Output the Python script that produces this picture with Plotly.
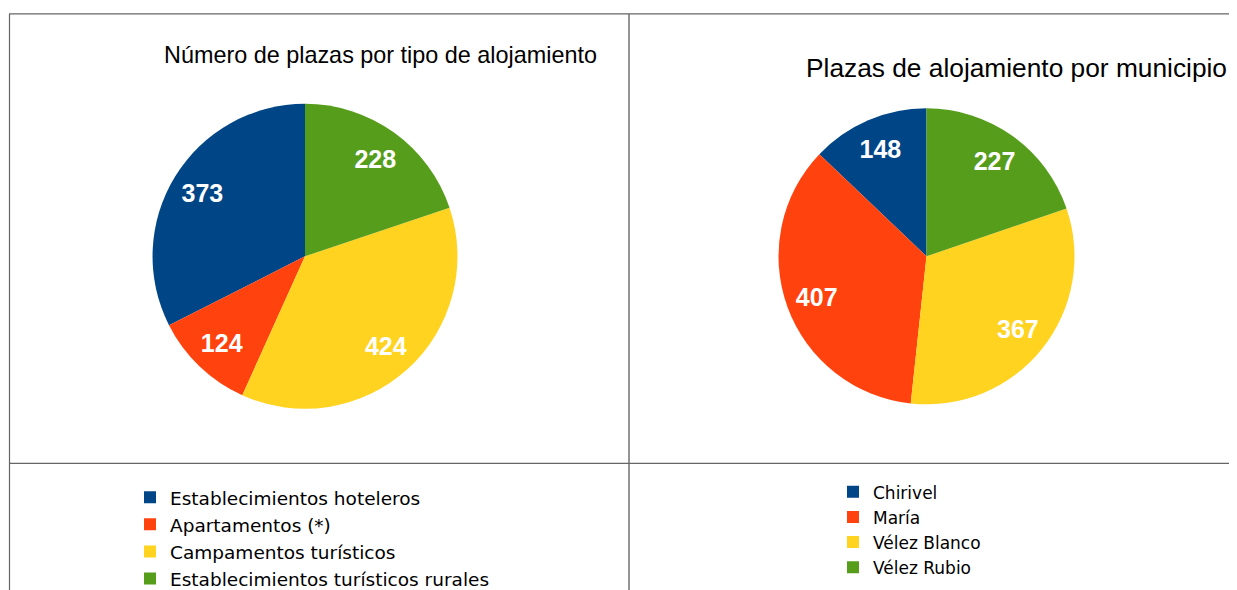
import plotly.graph_objects as go

W, H = 1237, 590
OFF = 8  # page body margin of the html page

# Data
tipo_labels = ["Establecimientos hoteleros", "Apartamentos (*)",
               "Campamentos turísticos", "Establecimientos turísticos rurales"]
tipo_values = [373, 124, 424, 228]

muni_labels = ["Chirivel", "María", "Vélez Blanco", "Vélez Rubio"]
muni_values = [148, 407, 367, 227]

colors = ["#004586", "#ff420e", "#ffd320", "#579d1c"]

title_left = "Número de plazas por tipo de alojamiento"
title_right = "Plazas de alojamiento por municipio"


def px_x(x):
    return (x - OFF) / W


def px_y(y):
    return 1 - (y - OFF) / H


def domain(cx, cy, d):
    return dict(x=[px_x(cx - d / 2), px_x(cx + d / 2)],
                y=[px_y(cy + d / 2), px_y(cy - d / 2)])


def start_rotation(values):
    # first slice starts at 12 o'clock and runs counter-clockwise
    return -360.0 * values[0] / sum(values)


fig = go.Figure()

label_font = dict(family="Liberation Sans", size=25, color="white", weight="bold")
transparent = ["rgba(0,0,0,0)"] * 4

for labels, values, cx, cy, d, leg in [
    (tipo_labels, tipo_values, 305, 258, 307, "legend"),
    (muni_labels, muni_values, 926.5, 258, 298, "legend2"),
]:
    rot = start_rotation(values)
    fig.add_trace(go.Pie(
        labels=labels, values=values, sort=False, direction="counterclockwise",
        rotation=rot, marker=dict(colors=colors, line=dict(width=0)),
        textinfo="none", domain=domain(cx, cy, d), legend=leg,
        hoverinfo="label+value",
    ))
    # value labels placed in the outer ring of the same pie
    fig.add_trace(go.Pie(
        labels=labels, values=values, sort=False, direction="counterclockwise",
        rotation=rot, hole=0.58, marker=dict(colors=transparent, line=dict(width=0)),
        textinfo="value", textposition="inside", insidetextorientation="horizontal",
        textfont=label_font, domain=domain(cx, cy, d), legend=leg,
        showlegend=False, hoverinfo="skip",
    ))

line_col = "#666666"
shapes = [
    dict(type="line", xref="paper", yref="paper", x0=px_x(9), x1=1.0, y0=px_y(14), y1=px_y(14),
         line=dict(color=line_col, width=1.2)),
    dict(type="line", xref="paper", yref="paper", x0=px_x(9), x1=1.0, y0=px_y(466.5), y1=px_y(466.5),
         line=dict(color=line_col, width=1.2)),
    dict(type="line", xref="paper", yref="paper", x0=px_x(9.5), x1=px_x(9.5), y0=0, y1=px_y(14),
         line=dict(color=line_col, width=1.2)),
    dict(type="line", xref="paper", yref="paper", x0=px_x(629), x1=px_x(629), y0=0, y1=px_y(14),
         line=dict(color=line_col, width=1.4)),
]

annotations = [
    dict(text=title_left, x=px_x(380.5), y=px_y(55), xref="paper", yref="paper",
         showarrow=False, xanchor="center", yanchor="middle",
         font=dict(family="Liberation Sans", size=23.4, color="#000000")),
    dict(text=title_right, x=px_x(1016.5), y=px_y(68.5), xref="paper", yref="paper",
         showarrow=False, xanchor="center", yanchor="middle",
         font=dict(family="Liberation Sans", size=26.3, color="#000000")),
]

fig.update_layout(
    width=W, height=H,
    margin=dict(l=0, r=0, t=0, b=0),
    paper_bgcolor="white", plot_bgcolor="white",
    shapes=shapes, annotations=annotations,
    legend=dict(x=px_x(130), y=px_y(482), xanchor="left", yanchor="top",
                bgcolor="rgba(0,0,0,0)", font=dict(family="DejaVu Sans", size=18.5, color="#000000")),
    legend2=dict(x=px_x(833), y=px_y(477.5), xanchor="left", yanchor="top",
                 bgcolor="rgba(0,0,0,0)", font=dict(family="DejaVu Sans", size=17, color="#000000")),
)

fig.write_html("out.html")
